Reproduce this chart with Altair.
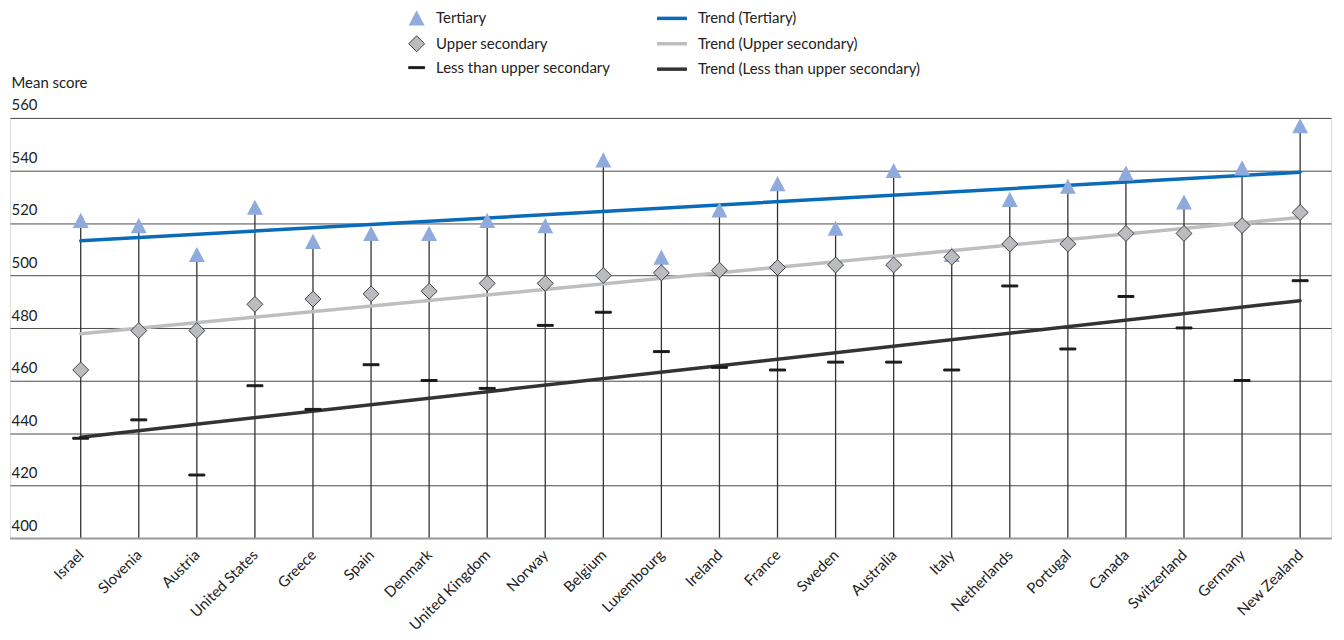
import altair as alt
import pandas as pd

countries = ["Israel", "Slovenia", "Austria", "United States", "Greece", "Spain", "Denmark",
             "United Kingdom", "Norway", "Belgium", "Luxembourg", "Ireland", "France", "Sweden",
             "Australia", "Italy", "Netherlands", "Portugal", "Canada", "Switzerland", "Germany",
             "New Zealand"]
tertiary = [521, 519, 508, 526, 513, 516, 516, 521, 519, 544, 507, 525, 535, 518, 540, 508,
            529, 534, 539, 528, 541, 557]
upper_secondary = [464, 479, 479, 489, 491, 493, 494, 497, 497, 500, 501, 502, 503, 504, 504,
                   507, 512, 512, 516, 516, 519, 524]
less_than_upper = [438, 445, 424, 458, 449, 466, 460, 457, 481, 486, 471, 465, 464, 467, 467,
                   464, 496, 472, 492, 480, 460, 498]

levels = ["Tertiary", "Upper secondary", "Less than upper secondary"]
trend_names = ["Trend (Tertiary)", "Trend (Upper secondary)", "Trend (Less than upper secondary)"]
trend_start = [513.2, 477.8, 438.4]
trend_end = [539.3, 522.1, 490.4]

FONT = "Lato"
TXT = "#222222"
FS = 15

points_df = pd.DataFrame(
    [{"country": c, "level": levels[0], "score": v} for c, v in zip(countries, tertiary)]
    + [{"country": c, "level": levels[1], "score": v} for c, v in zip(countries, upper_secondary)]
    + [{"country": c, "level": levels[2], "score": v} for c, v in zip(countries, less_than_upper)]
)
rules_df = pd.DataFrame({"country": countries, "top": tertiary})
trend_df = pd.DataFrame(
    [{"country": countries[0], "trend": n, "score": s} for n, s in zip(trend_names, trend_start)]
    + [{"country": countries[-1], "trend": n, "score": e} for n, e in zip(trend_names, trend_end)]
)

x_enc = alt.X(
    "country:N",
    sort=countries,
    scale=alt.Scale(type="point", padding=0.875, align=0.696),
    axis=alt.Axis(
        title=None, ticks=False, labelAngle=-45, labelAlign="right", labelBaseline="middle",
        labelPadding=14, labelFontSize=FS, labelColor=TXT, labelFont=FONT,
        domainColor="#9a9a9a", domainWidth=2, zindex=1,
    ),
)
y_scale = alt.Scale(domain=[400, 560], nice=False, zero=False)
y_axis = alt.Axis(
    title="Mean score", titleAngle=0, titleAlign="left", titleBaseline="alphabetic",
    titleX=1, titleY=-31, titleFontWeight="normal", titleFontSize=FS, titleColor=TXT,
    titleFont=FONT, values=list(range(400, 561, 20)), domain=False, ticks=False,
    labelAlign="left", labelBaseline="alphabetic", labelPadding=-1, labelOffset=-8,
    labelFontSize=FS, labelColor=TXT, labelFont=FONT, grid=True, gridColor="#4a4a4a",
    gridWidth=1,
)

rules = alt.Chart(rules_df).mark_rule(color="#333333", strokeWidth=1.3).encode(
    x=x_enc,
    y=alt.Y("top:Q", scale=y_scale, axis=y_axis),
    y2=alt.datum(400),
)

trend = alt.Chart(trend_df).mark_line(strokeWidth=3.5, strokeCap="round").encode(
    x=alt.X("country:N", sort=countries),
    y=alt.Y("score:Q"),
    color=alt.Color(
        "trend:N",
        scale=alt.Scale(domain=trend_names, range=["#0a6cb8", "#bdbec0", "#333333"]),
        legend=alt.Legend(
            title=None, orient="none", legendX=648, legendY=-117, direction="vertical",
            symbolType="stroke", symbolSize=900, symbolStrokeWidth=3.5, labelOffset=9,
            labelFontSize=FS, labelFont=FONT, labelColor=TXT, labelLimit=0, rowPadding=0.5,
            padding=0,
        ),
    ),
    detail="trend:N",
)

pt_legend = alt.Legend(
    title=None, orient="none", legendX=400, legendY=-109, direction="vertical",
    symbolSize=256, symbolStrokeWidth=1, labelOffset=11, labelFontSize=FS, labelFont=FONT,
    labelColor=TXT, labelLimit=0, rowPadding=5, padding=0,
)
tri_path = "M0,-0.95L1,0.95L-1,0.95Z"
dash_path = "M-1,-0.12L1,-0.12L1,0.12L-1,0.12Z"
points = alt.Chart(points_df).mark_point(filled=True, opacity=1, strokeWidth=1).encode(
    x=alt.X("country:N", sort=countries),
    y=alt.Y("score:Q"),
    shape=alt.Shape("level:N", scale=alt.Scale(domain=levels, range=[tri_path, "diamond", dash_path]),
                    legend=pt_legend),
    fill=alt.Fill("level:N", scale=alt.Scale(domain=levels, range=["#8faadc", "#bbbcbf", "#1a1a1a"]),
                  legend=pt_legend),
    stroke=alt.Stroke("level:N", scale=alt.Scale(domain=levels, range=["transparent", "#404040", "#1a1a1a"]),
                      legend=pt_legend),
    size=alt.value(256),
)

chart = alt.layer(rules, trend, points).properties(
    width=1327,
    height=422,
    autosize=alt.AutoSizeParams(type="none"),
    padding={"left": 2, "top": 109, "right": 5, "bottom": 100},
).configure_view(stroke=None).configure(font=FONT)

chart.save("out.html", embed_options={"renderer": "svg", "actions": False})
